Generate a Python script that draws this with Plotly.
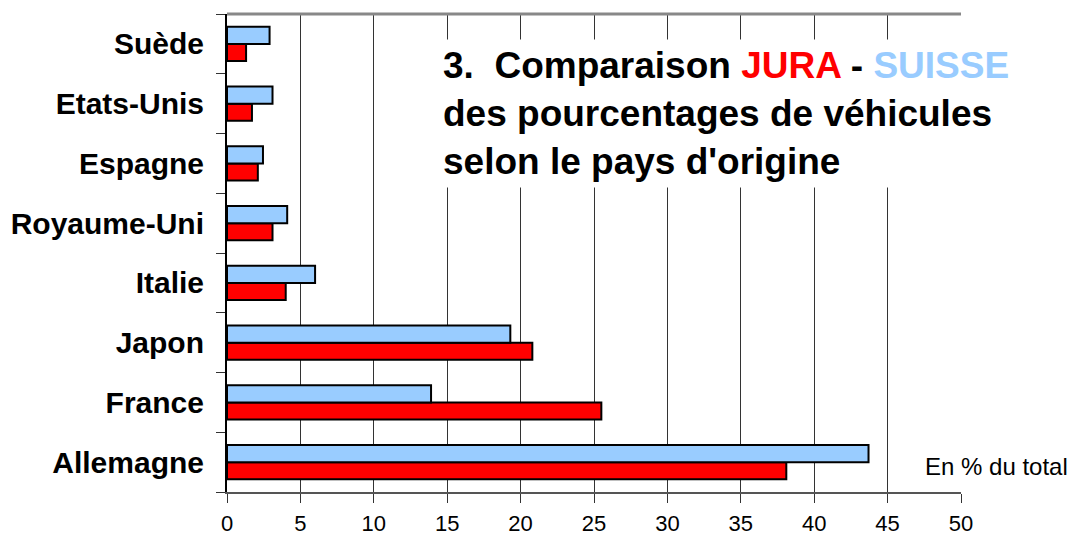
import plotly.graph_objects as go

categories = ["Allemagne", "France", "Japon", "Italie", "Royaume-Uni", "Espagne", "Etats-Unis", "Suède"]
jura = [38.1, 25.5, 20.8, 4.0, 3.1, 2.1, 1.7, 1.3]
suisse = [43.7, 13.9, 19.3, 6.0, 4.1, 2.45, 3.1, 2.9]
x_ticks = [0, 5, 10, 15, 20, 25, 30, 35, 40, 45, 50]

W, H = 1071, 539
L, R, T, B = 227, 110, 14, 47
pw, ph = W - L - R, H - T - B

def px(x):
    return (x - L) / pw

def py(y):
    return 1 - (y - T) / ph

fig = go.Figure()
fig.add_trace(go.Bar(y=categories, x=jura, orientation="h", name="JURA",
                     marker=dict(color="#FF0000", line=dict(color="black", width=2))))
fig.add_trace(go.Bar(y=categories, x=suisse, orientation="h", name="SUISSE",
                     marker=dict(color="#99CCFF", line=dict(color="black", width=2))))

fig.update_layout(
    width=W, height=H,
    margin=dict(l=L, r=R, t=T, b=B, autoexpand=False),
    paper_bgcolor="white", plot_bgcolor="white",
    barmode="group", bargap=0.43, bargroupgap=0,
    showlegend=False,
    xaxis=dict(range=[0, 50], tickvals=x_ticks, ticktext=[str(v) for v in x_ticks],
               showgrid=True, gridcolor="#333333", gridwidth=1,
               showline=True, linecolor="#555555", linewidth=2,
               ticks="outside", ticklen=9, tickcolor="#333333", tickwidth=1,
               zeroline=False, ticklabelstandoff=2,
               tickfont=dict(family="Liberation Sans Narrow, Liberation Sans", size=22, color="black")),
    yaxis=dict(type="category", categoryorder="array", categoryarray=categories,
               range=[-0.5, 7.5], tickson="boundaries",
               showline=True, linecolor="black", linewidth=2,
               ticks="outside", ticklen=9, tickcolor="#333333", tickwidth=1,
               showgrid=False, ticklabelstandoff=15,
               tickfont=dict(family="Liberation Sans", size=30, color="black", weight="bold")),
)

fig.add_shape(type="line", xref="paper", yref="paper", x0=0, x1=1, y0=1, y1=1,
              line=dict(color="#888888", width=3))

fig.add_annotation(
    xref="paper", yref="paper", x=px(437), y=py(39), xanchor="left", yanchor="top",
    align="left", showarrow=False, bgcolor="white", borderpad=5,
    text=("3.&nbsp; Comparaison <span style='color:#FF0000'>JURA</span> - "
          "<span style='color:#99CCFF'>SUISSE</span><br>des pourcentages de véhicules"
          "<br>selon le pays d'origine"),
    font=dict(family="Liberation Sans", size=37, color="black", weight="bold"),
)

fig.add_annotation(
    xref="paper", yref="paper", x=px(920), y=py(448), xanchor="left", yanchor="top",
    align="left", showarrow=False, bgcolor="white", borderpad=4,
    text="En % du total",
    font=dict(family="Liberation Sans", size=24, color="black"),
)

fig.write_html("out.html", config={"displayModeBar": False},
               post_script="document.body.style.margin='0';")
